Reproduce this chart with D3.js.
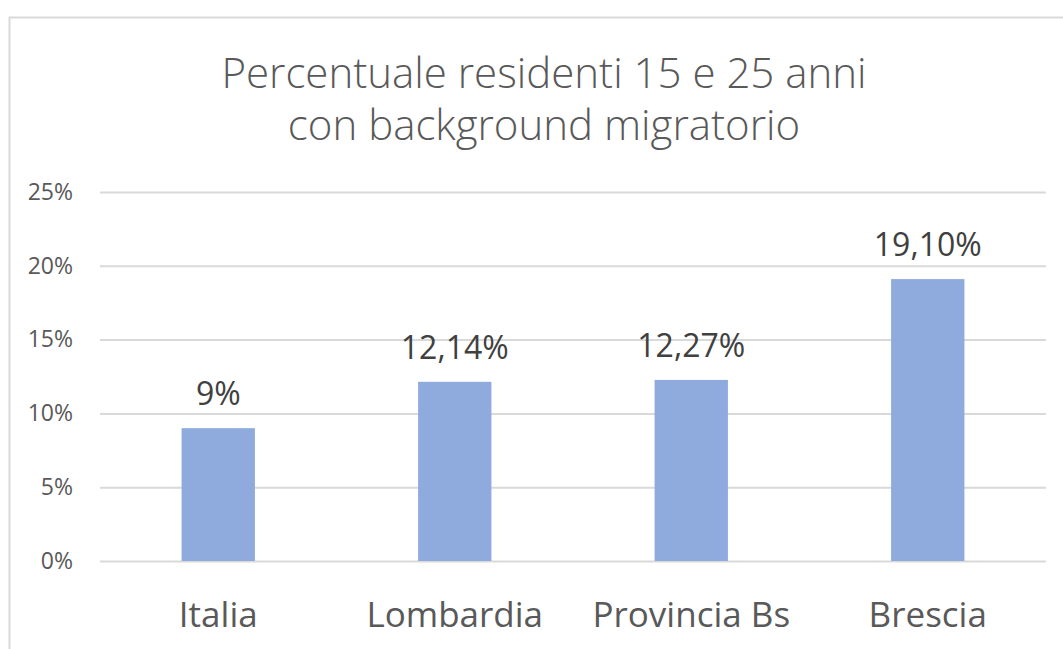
<!DOCTYPE html>
<html>
<head>
<meta charset="utf-8">
<script src="https://cdn.jsdelivr.net/npm/d3@7"></script>
<style>
  html, body { margin: 0; padding: 0; background: #fff; }
  svg { display: block; }
  svg text { font-family: "Open Sans", sans-serif; }
</style>
</head>
<body>
<svg class="chart" width="1063" height="649"></svg>
<script>
// chart data
const categories = ["Italia", "Lombardia", "Provincia Bs", "Brescia"];
const values = [9, 12.14, 12.27, 19.10];
const valueLabels = ["9%", "12,14%", "12,27%", "19,10%"];
const yTicks = [0, 5, 10, 15, 20, 25];
const titleLines = ["Percentuale residenti 15 e 25 anni", "con background migratorio"];

const svg = d3.select(".chart");
const margin = { top: 192, right: 17, bottom: 88, left: 100 };
const width = 1063 - margin.left - margin.right;
const height = 649 - margin.top - margin.bottom;

// outer chart frame
svg.append("rect")
    .attr("x", 9.5).attr("y", 17.5)
    .attr("width", 1100).attr("height", 700)
    .attr("fill", "none")
    .attr("stroke", "#d9d9d9")
    .attr("stroke-width", 2);

// title
svg.append("text")
    .attr("text-anchor", "middle")
    .attr("fill", "#595959")
    .style("font-size", "42px")
    .style("font-weight", 300)
    .selectAll("tspan")
    .data(titleLines)
    .enter()
    .append("tspan")
    .attr("x", 544)
    .attr("y", (d, i) => 88 + i * 52)
    .text((d) => d);

const g = svg.append("g").attr("transform", `translate(${margin.left},${margin.top})`);

const x = d3.scaleBand().domain(categories).range([0, width]).paddingInner(0.69).paddingOuter(0.345);
const y = d3.scaleLinear().domain([0, 25]).range([height, 0]);

// gridlines + y labels
const yAxis = g.append("g")
    .call(d3.axisLeft(y).tickValues(yTicks).tickSize(-width).tickFormat((d) => d + "%"));
yAxis.select(".domain").remove();
yAxis.selectAll(".tick line").attr("stroke", "#d9d9d9").attr("stroke-width", 2);
yAxis.selectAll(".tick text")
    .attr("x", -27)
    .attr("fill", "#595959")
    .style("font-family", "'Open Sans', sans-serif")
    .style("font-size", "23px");

// bars
g.selectAll(".bar")
    .data(values)
    .enter()
    .append("rect")
    .attr("class", "bar")
    .attr("x", (d, i) => x(categories[i]))
    .attr("y", (d) => y(d))
    .attr("width", x.bandwidth())
    .attr("height", (d) => height - y(d))
    .attr("fill", "#8faadc");

// value labels
g.selectAll(".val")
    .data(values)
    .enter()
    .append("text")
    .attr("x", (d, i) => x(categories[i]) + x.bandwidth() / 2)
    .attr("y", (d) => y(d) - 23)
    .attr("text-anchor", "middle")
    .attr("fill", "#404040")
    .style("font-size", "32px")
    .text((d, i) => valueLabels[i]);

// x axis labels
const xAxis = g.append("g")
    .attr("transform", `translate(0,${height})`)
    .call(d3.axisBottom(x).tickSize(0).tickPadding(41));
xAxis.select(".domain").remove();
xAxis.selectAll(".tick text")
    .attr("fill", "#595959")
    .style("font-family", "'Open Sans', sans-serif")
    .style("font-size", "35px");
</script>
</body>
</html>
